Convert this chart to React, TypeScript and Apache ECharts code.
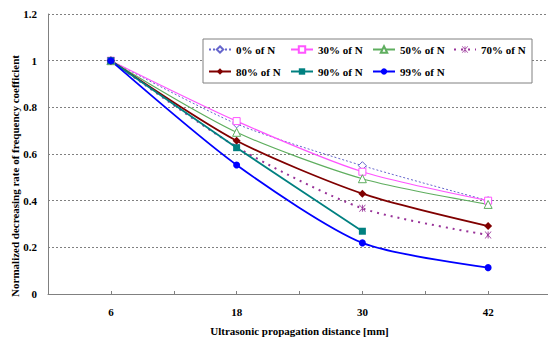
import React, { useEffect, useRef } from "react";
import * as echarts from "echarts";

const distances = [6, 18, 30, 42];
const xTickLabels = ["6", "18", "30", "42"];
const seriesNames = ["0% of N", "30% of N", "50% of N", "70% of N", "80% of N", "90% of N", "99% of N"];
const s0 = [1, 0.729, 0.55, 0.4];
const s30 = [1, 0.741, 0.524, 0.4];
const s50 = [1, 0.693, 0.494, 0.384];
const s70 = [1, 0.63, 0.367, 0.253];
const s80 = [1, 0.657, 0.43, 0.291];
const s90 = [1, 0.627, 0.269];
const s99 = [1, 0.553, 0.219, 0.113];

const FONT = "'Liberation Serif', 'Times New Roman', serif";
const STAR = "path://M-4,-5L-3,-5L4,5L3,5Z M3,-5L4,-5L-3,5L-4,5Z M-0.5,-5L0.5,-5L0.5,5L-0.5,5Z";

type Spec = {
  name: string;
  data: number[];
  color: string;
  symbol: string;
  hollow: boolean;
  lineType: any;
  width: number;
  size: number;
};

const specs: Spec[] = [
  { name: seriesNames[0], data: s0, color: "#6666CC", symbol: "diamond", hollow: true, lineType: [2, 2], width: 1, size: 8 },
  { name: seriesNames[1], data: s30, color: "#FF55FF", symbol: "rect", hollow: true, lineType: "solid", width: 1.2, size: 7 },
  { name: seriesNames[2], data: s50, color: "#5FAE5F", symbol: "triangle", hollow: true, lineType: "solid", width: 1.2, size: 8 },
  { name: seriesNames[3], data: s70, color: "#993399", symbol: STAR, hollow: false, lineType: [2, 5], width: 2, size: 7 },
  { name: seriesNames[4], data: s80, color: "#800000", symbol: "diamond", hollow: false, lineType: "solid", width: 1.8, size: 8 },
  { name: seriesNames[5], data: s90, color: "#008080", symbol: "rect", hollow: false, lineType: "solid", width: 1.8, size: 7 },
  { name: seriesNames[6], data: s99, color: "#0000FF", symbol: "circle", hollow: false, lineType: "solid", width: 1.8, size: 7 },
];

const legendPos = [
  [208, 0], [290, 0], [372, 0], [453, 0],
  [208, 1], [290, 1], [372, 1],
];

export default function App() {
  const ref = useRef<HTMLDivElement>(null);
  useEffect(() => {
    if (!ref.current) return;
    const chart = echarts.init(ref.current, null, { renderer: "svg" });
    const textStyle = { fontFamily: FONT, fontWeight: "bold" as const, fontSize: 11, color: "#000" };
    const option: any = {
      animation: false,
      textStyle: { fontFamily: FONT },
      grid: { left: 48, top: 14, width: 503, height: 280, containLabel: false, outerBoundsMode: "none" },
      xAxis: {
        type: "value",
        min: 0,
        max: 48,
        interval: 6,
        name: "Ultrasonic propagation distance [mm]",
        nameLocation: "middle",
        nameGap: 31,
        nameTextStyle: textStyle,
        axisLine: { lineStyle: { color: "#808080", width: 1 } },
        axisTick: { inside: true, length: 3, lineStyle: { color: "#808080" } },
        axisLabel: {
          ...textStyle,
          margin: 12,
          formatter: (v: number) => {
            const i = distances.indexOf(v);
            return i >= 0 ? xTickLabels[i] : "";
          },
        },
        splitLine: { show: false },
      },
      yAxis: {
        type: "value",
        min: 0,
        max: 1.2,
        interval: 0.2,
        axisLine: { show: true, lineStyle: { color: "#808080", width: 1 } },
        axisTick: { show: false },
        axisLabel: { ...textStyle, margin: 11 },
        splitLine: { lineStyle: { color: "#808080", type: [2, 2], width: 1 } },
      },
      graphic: [
        {
          type: "rect",
          z: 1,
          shape: { x: 203, y: 39, width: 329, height: 44 },
          style: { fill: "#fff", stroke: "#808080", lineWidth: 1 },
        },
        {
          type: "text",
          x: 15,
          y: 176,
          rotation: Math.PI / 2,
          style: {
            text: "Normalized decreasing rate of frequency coefficient",
            font: `bold 11px ${FONT}`,
            fill: "#000",
            align: "center",
            verticalAlign: "middle",
          },
        },
      ],
      legend: specs.map((s, i) => ({
        data: [s.name],
        left: legendPos[i][0],
        top: legendPos[i][1] === 0 ? 44 : 66,
        itemWidth: 22,
        itemHeight: 8,
        itemGap: 0,
        padding: 0,
        z: 5,
        textStyle: { ...textStyle },
      })),
      series: specs.map((s) => ({
        name: s.name,
        type: "line",
        smooth: 0.25,
        data: s.data.map((v, i) => [distances[i], v]),
        symbol: s.symbol,
        symbolSize: s.size,
        showSymbol: true,
        lineStyle: { color: s.color, width: s.width, type: s.lineType },
        itemStyle: s.hollow
          ? { color: "#fff", borderColor: s.color, borderWidth: 1 }
          : { color: s.color, borderColor: s.color, borderWidth: 0 },
        z: 3,
      })),
    };
    chart.setOption(option);
    return () => chart.dispose();
  }, []);
  return (
    <div
      ref={ref}
      style={{ position: "fixed", left: 0, top: 0, width: 548, height: 340, background: "#fff" }}
    />
  );
}
